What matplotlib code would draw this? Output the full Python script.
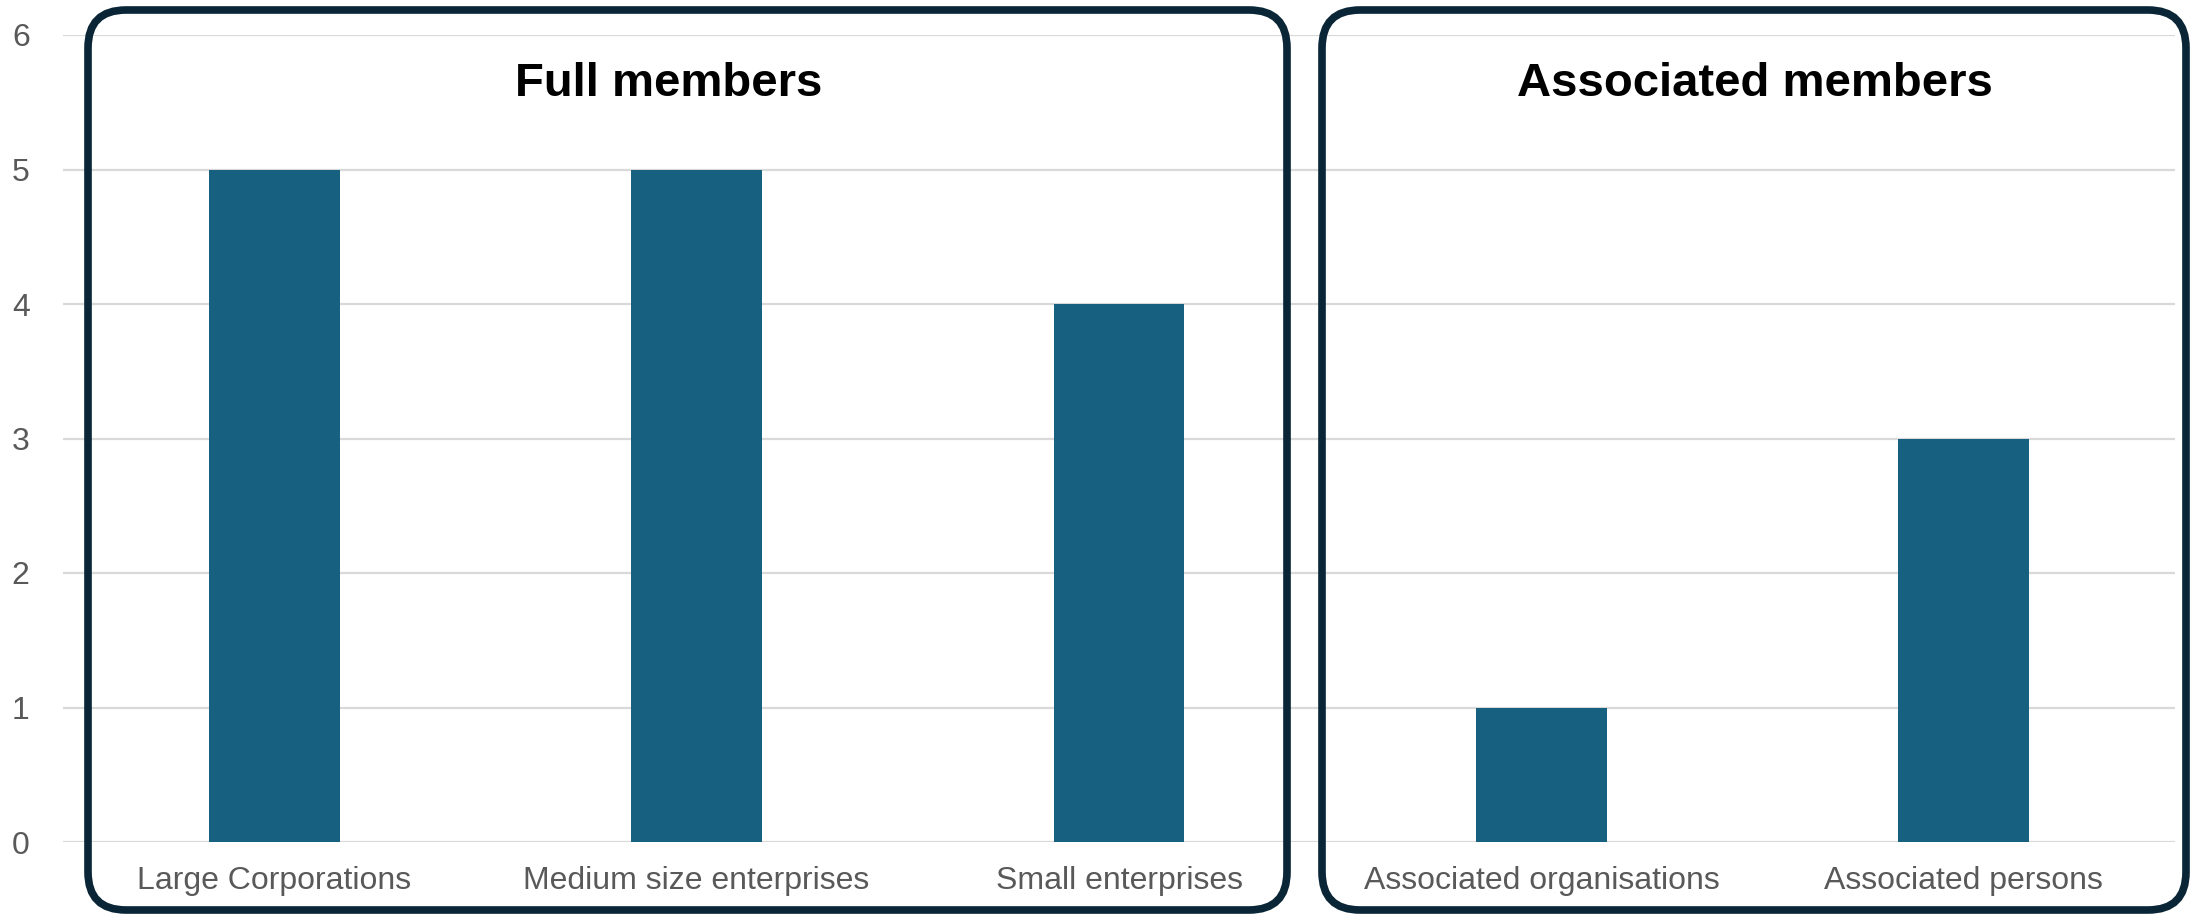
import matplotlib.pyplot as plt
from matplotlib.patches import FancyBboxPatch

plt.rcParams['font.family'] = ['Liberation Sans', 'DejaVu Sans']

categories = ['Large Corporations', 'Medium size enterprises', 'Small enterprises',
              'Associated organisations', 'Associated persons']
members = [5, 5, 4, 1, 3]
groups = ['Full members', 'Associated members']
yticks = [0, 1, 2, 3, 4, 5, 6]

bar_color = '#17607f'
box_color = '#0a2536'
grid_color = '#d9d9d9'
label_color = '#595959'

fig = plt.figure(figsize=(21.9, 9.14), dpi=100)
ax = fig.add_axes([63 / 2190, 72 / 914, 2112 / 2190, 807 / 914])

x = range(len(categories))
ax.bar(x, members, width=0.31, color=bar_color, zorder=2)
ax.set_xlim(-0.5, len(categories) - 0.5)
ax.set_ylim(0, 6)
ax.set_yticks(yticks)
ax.set_xticks(list(x))
ax.set_xticklabels(categories)
ax.yaxis.grid(True, color=grid_color, linewidth=1.6)
ax.set_axisbelow(True)
for s in ax.spines.values():
    s.set_visible(False)
ax.tick_params(axis='both', length=0, labelsize=23, labelcolor=label_color)
ax.tick_params(axis='y', pad=24)
ax.tick_params(axis='x', pad=17)

# rounded group boxes, in inches
tr = fig.dpi_scale_trans
title_x = [669, 1755]
for (x0, x1), title, tx in zip([(88, 1287), (1322, 2186)], groups, title_x):
    box = FancyBboxPatch((x0 / 100, 4 / 100), (x1 - x0) / 100, 900 / 100,
                         boxstyle='round,pad=0,rounding_size=0.38',
                         transform=tr, facecolor='none', edgecolor=box_color,
                         linewidth=5.5, zorder=5)
    fig.patches.append(box)
    fig.text(tx / 100, (914 - 84) / 100, title, transform=tr,
             ha='center', va='center', fontsize=34, fontweight='bold', color='black')

fig.savefig('out.png', dpi=100)
